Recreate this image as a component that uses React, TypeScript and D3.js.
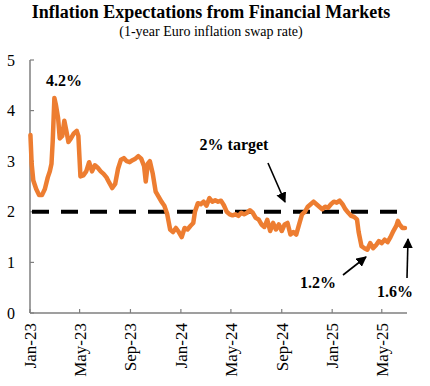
import React from 'react';
import * as d3 from 'd3';

// 1-year Euro inflation swap rate
const dates = [
  '2023-01-02', '2023-01-05', '2023-01-09', '2023-01-16', '2023-01-23', '2023-01-30',
  '2023-02-06', '2023-02-13', '2023-02-18', '2023-02-22', '2023-02-25', '2023-03-01',
  '2023-03-05', '2023-03-10', '2023-03-14', '2023-03-20', '2023-03-25', '2023-03-30',
  '2023-04-04', '2023-04-10', '2023-04-17', '2023-04-24', '2023-04-28', '2023-05-03',
  '2023-05-10', '2023-05-17', '2023-05-24', '2023-05-31', '2023-06-07', '2023-06-14',
  '2023-06-21', '2023-06-28', '2023-07-05', '2023-07-12', '2023-07-19', '2023-07-26',
  '2023-08-02', '2023-08-09', '2023-08-16', '2023-08-23', '2023-08-30', '2023-09-06',
  '2023-09-13', '2023-09-20', '2023-09-27', '2023-10-04', '2023-10-08', '2023-10-13',
  '2023-10-18', '2023-10-25', '2023-11-01', '2023-11-08', '2023-11-15', '2023-11-22',
  '2023-11-29', '2023-12-06', '2023-12-13', '2023-12-20', '2023-12-27', '2024-01-03',
  '2024-01-10', '2024-01-17', '2024-01-24', '2024-01-31', '2024-02-04', '2024-02-11',
  '2024-02-18', '2024-02-25', '2024-03-03', '2024-03-10', '2024-03-17', '2024-03-24',
  '2024-03-31', '2024-04-07', '2024-04-14', '2024-04-21', '2024-04-28', '2024-05-05',
  '2024-05-12', '2024-05-19', '2024-05-26', '2024-06-02', '2024-06-09', '2024-06-16',
  '2024-06-23', '2024-06-30', '2024-07-07', '2024-07-14', '2024-07-21', '2024-07-28',
  '2024-08-04', '2024-08-11', '2024-08-18', '2024-08-25', '2024-09-01', '2024-09-08',
  '2024-09-15', '2024-09-22', '2024-09-29', '2024-10-06', '2024-10-13', '2024-10-20',
  '2024-10-27', '2024-11-03', '2024-11-10', '2024-11-17', '2024-11-24', '2024-12-01',
  '2024-12-08', '2024-12-15', '2024-12-22', '2024-12-29', '2025-01-05', '2025-01-12',
  '2025-01-19', '2025-01-26', '2025-02-02', '2025-02-09', '2025-02-16', '2025-02-23',
  '2025-03-02', '2025-03-06', '2025-03-13', '2025-03-20', '2025-03-27', '2025-04-03',
  '2025-04-10', '2025-04-17', '2025-04-24', '2025-05-01', '2025-05-08', '2025-05-15',
  '2025-05-22', '2025-05-29', '2025-06-05', '2025-06-09', '2025-06-13', '2025-06-20',
  '2025-06-26',
];

const rates = [
  3.52, 2.95, 2.62, 2.45, 2.33, 2.33,
  2.45, 2.68, 2.8, 2.95, 3.4, 4.25,
  4.1, 3.85, 3.45, 3.5, 3.8, 3.6,
  3.38, 3.45, 3.55, 3.6, 3.5, 2.7,
  2.72, 2.8, 2.98, 2.8, 2.92, 2.87,
  2.8, 2.75, 2.68, 2.57, 2.47, 2.55,
  2.85, 3.03, 3.06, 3.0, 2.98, 3.02,
  3.05, 3.1, 3.05, 2.9, 2.6, 2.95,
  3.0, 2.75, 2.4, 2.3, 2.2, 2.12,
  1.95, 1.65, 1.6, 1.68, 1.6, 1.5,
  1.68, 1.65, 1.72, 1.78, 2.0, 2.17,
  2.15, 2.2, 2.12, 2.27, 2.2, 2.23,
  2.2, 2.22, 2.13, 2.0, 1.95, 1.93,
  1.95, 1.92, 1.98, 1.95, 1.98, 2.03,
  1.98, 1.88, 1.85, 1.75, 1.7, 1.84,
  1.62, 1.78, 1.65, 1.75, 1.62, 1.75,
  1.78, 1.55, 1.6, 1.55, 1.75, 1.95,
  2.0, 2.1, 2.15, 2.2, 2.15, 2.1,
  2.05, 2.1, 2.08, 2.15, 2.2, 2.18,
  2.22, 2.15, 2.05, 1.98, 1.92, 1.9,
  1.85, 1.6, 1.32, 1.28, 1.25, 1.38,
  1.28, 1.34, 1.42, 1.38, 1.45, 1.4,
  1.5, 1.62, 1.72, 1.82, 1.75, 1.68,
  1.68,
];

const yTicks = [0, 1, 2, 3, 4, 5];
const xTickLabels = ['Jan-23', 'May-23', 'Sep-23', 'Jan-24', 'May-24', 'Sep-24', 'Jan-25', 'May-25'];
const target = 2;

const title = 'Inflation Expectations from Financial Markets';
const subtitle = '(1-year Euro inflation swap rate)';

const App = () => {
  const width = 430;
  const height = 386;
  const font = '"Liberation Serif", "Times New Roman", serif';
  const axisColor = '#7f7f7f';

  const parse = d3.timeParse('%Y-%m-%d');
  const data = dates.map((d, i) => ({ date: parse(d) as Date, value: rates[i] }));

  const xScale = d3.scaleTime()
    .domain([new Date(2023, 0, 1), new Date(2025, 6, 1)])
    .range([30, 407]);
  const yScale = d3.scaleLinear().domain([0, 5]).range([313, 60]);

  const parseTick = d3.timeParse('%b-%y');
  const xTicks = xTickLabels.map(t => ({ label: t, date: parseTick(t) as Date }));

  const line = d3.line<{ date: Date; value: number }>()
    .x(d => xScale(d.date))
    .y(d => yScale(d.value));

  const y0 = yScale(0);
  const x0 = xScale.range()[0];
  const x1 = xScale.range()[1];

  return (
    <div style={{ position: 'absolute', left: 0, top: 0 }}>
      <svg width={width} height={height} style={{ display: 'block', background: '#fff' }}>
        <defs>
          <marker id="arrow" viewBox="0 0 10 10" refX="9" refY="5"
            markerWidth="6.5" markerHeight="6.5" orient="auto" markerUnits="strokeWidth">
            <path d="M0,0 L10,5 L0,10 z" fill="#000" />
          </marker>
        </defs>

        <text x={211} y={18} textAnchor="middle" fontFamily={font} fontWeight="bold" fontSize={18}>
          {title}
        </text>
        <text x={211} y={36} textAnchor="middle" fontFamily={font} fontSize={14}>
          {subtitle}
        </text>

        {/* y axis */}
        <line x1={x0} x2={x0} y1={yScale(5)} y2={y0} stroke={axisColor} strokeWidth={1.5} />
        {yTicks.map(t => (
          <g key={t}>
            <line x1={x0} x2={x0 + 4} y1={yScale(t)} y2={yScale(t)} stroke={axisColor} strokeWidth={1.2} />
            <text x={15} y={yScale(t)} dy="0.35em" textAnchor="end" fontFamily={font} fontSize={16}>
              {t}
            </text>
          </g>
        ))}

        {/* x axis */}
        <line x1={x0} x2={x1} y1={y0} y2={y0} stroke={axisColor} strokeWidth={1.5} />
        {xTicks.map(t => (
          <g key={t.label}>
            <line x1={xScale(t.date)} x2={xScale(t.date)} y1={y0} y2={y0 - 4} stroke={axisColor} strokeWidth={1.2} />
            <text
              transform={`translate(${xScale(t.date)},${y0 + 10}) rotate(-90)`}
              dy="0.35em" textAnchor="end" fontFamily={font} fontSize={17}>
              {t.label}
            </text>
          </g>
        ))}

        {/* 2% target */}
        <line x1={x0 + 2} x2={402} y1={yScale(target)} y2={yScale(target)}
          stroke="#000" strokeWidth={4} strokeDasharray="17 12" />

        <path d={line(data) || ''} fill="none" stroke="#ED7D31" strokeWidth={4.5}
          strokeLinejoin="round" strokeLinecap="round" />

        {/* annotations */}
        <text x={64} y={86} textAnchor="middle" fontFamily={font} fontWeight="bold" fontSize={16}>4.2%</text>
        <text x={234} y={150} textAnchor="middle" fontFamily={font} fontWeight="bold" fontSize={16}>2% target</text>
        <line x1={268} y1={163} x2={285} y2={202} stroke="#000" strokeWidth={1.6} markerEnd="url(#arrow)" />
        <text x={318} y={288} textAnchor="middle" fontFamily={font} fontWeight="bold" fontSize={16}>1.2%</text>
        <line x1={343} y1={275} x2={366} y2={257} stroke="#000" strokeWidth={1.6} markerEnd="url(#arrow)" />
        <text x={395} y={297} textAnchor="middle" fontFamily={font} fontWeight="bold" fontSize={16}>1.6%</text>
        <line x1={407} y1={278} x2={408} y2={239} stroke="#000" strokeWidth={1.6} markerEnd="url(#arrow)" />
      </svg>
    </div>
  );
};

export default App;
